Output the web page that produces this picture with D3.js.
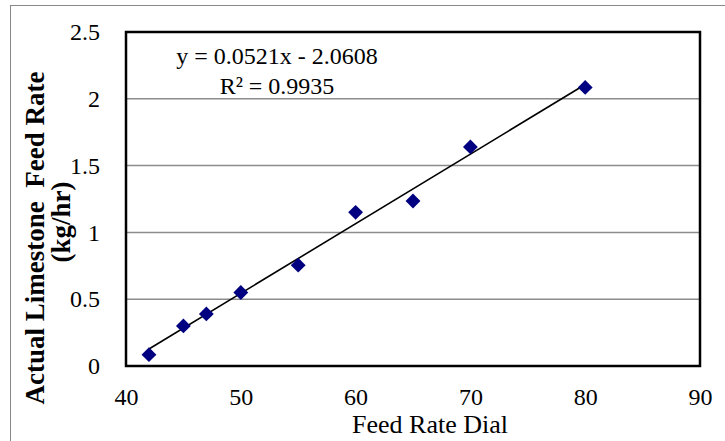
<!DOCTYPE html>
<html>
<head>
<meta charset="utf-8">
<script src="https://cdn.jsdelivr.net/npm/d3@7"></script>
<style>
  body { margin: 0; background: #fff; }
  svg { display: block; font-family: "Liberation Serif", "Times New Roman", serif; }
  svg text { font-family: "Liberation Serif", "Times New Roman", serif !important; }
</style>
</head>
<body>
<div id="chart"></div>
<script>
const feedDial = [42, 45, 47, 50, 55, 60, 65, 70, 80];
const feedRate = [0.085, 0.30, 0.39, 0.55, 0.755, 1.15, 1.235, 1.64, 2.085];
const xTicks = [40, 50, 60, 70, 80, 90];
const yTicks = [0, 0.5, 1, 1.5, 2, 2.5];
const slope = 0.0521, intercept = -2.0608;
const eqLines = ["y = 0.0521x - 2.0608", "R² = 0.9935"];

const W = 725, H = 441;
const plot = { left: 126, right: 700, top: 32, bottom: 366 };

const svg = d3.select("#chart").append("svg")
    .attr("width", W)
    .attr("height", H);

// outer chart border
svg.append("rect")
    .attr("x", 10.5).attr("y", 5.5)
    .attr("width", 730).attr("height", 450)
    .attr("fill", "none")
    .attr("stroke", "#888")
    .attr("stroke-width", 1);

const x = d3.scaleLinear().domain([40, 90]).range([plot.left, plot.right]);
const y = d3.scaleLinear().domain([0, 2.5]).range([plot.bottom, plot.top]);

// gridlines
svg.append("g")
  .selectAll("line")
  .data(yTicks.slice(1, -1))
  .join("line")
    .attr("x1", plot.left).attr("x2", plot.right)
    .attr("y1", d => y(d)).attr("y2", d => y(d))
    .attr("stroke", "#8c8c8c")
    .attr("stroke-width", 1.5);

// axes (labels only)
const xAxis = svg.append("g")
    .attr("transform", `translate(0,${plot.bottom})`)
    .call(d3.axisBottom(x).tickValues(xTicks).tickSize(0).tickPadding(22).tickFormat(d3.format("d")));
xAxis.select(".domain").remove();

const yAxis = svg.append("g")
    .attr("transform", `translate(${plot.left},0)`)
    .call(d3.axisLeft(y).tickValues(yTicks).tickSize(0).tickPadding(26).tickFormat(d => String(d)));
yAxis.select(".domain").remove();

svg.selectAll(".tick text")
    .style("font-size", "24px")
    .style("fill", "#000");

// plot frame
svg.append("rect")
    .attr("x", plot.left).attr("y", plot.top)
    .attr("width", plot.right - plot.left)
    .attr("height", plot.bottom - plot.top)
    .attr("fill", "none")
    .attr("stroke", "#000")
    .attr("stroke-width", 2.5);

// trendline
const xr = d3.extent(feedDial);
svg.append("line")
    .attr("x1", x(xr[0])).attr("y1", y(slope * xr[0] + intercept))
    .attr("x2", x(xr[1])).attr("y2", y(slope * xr[1] + intercept))
    .attr("stroke", "#000")
    .attr("stroke-width", 1.6);

// points
const diamond = d3.symbol().type(d3.symbolSquare).size(110);
svg.append("g")
  .selectAll("path")
  .data(feedDial.map((d, i) => [d, feedRate[i]]))
  .join("path")
    .attr("d", diamond)
    .attr("transform", d => `translate(${x(d[0])},${y(d[1])}) rotate(45)`)
    .attr("fill", "#000080");

// equation
svg.append("g")
  .selectAll("text")
  .data(eqLines)
  .join("text")
    .attr("x", 277)
    .attr("y", (d, i) => 64 + i * 30)
    .attr("text-anchor", "middle")
    .attr("font-size", 24)
    .text(d => d);

// axis titles
svg.append("text")
    .attr("x", 430).attr("y", 433)
    .attr("text-anchor", "middle")
    .attr("font-size", 26)
    .text("Feed Rate Dial");

const yTitle = svg.append("g")
    .attr("transform", "rotate(-90)")
    .attr("font-size", 27)
    .attr("font-weight", "bold")
    .attr("text-anchor", "middle");
yTitle.append("text")
    .attr("x", -238).attr("y", 44)
    .text("Actual Limestone  Feed Rate")
    .style("white-space", "pre");
yTitle.append("text")
    .attr("x", -222).attr("y", 70)
    .text("(kg/hr)");
</script>
</body>
</html>
